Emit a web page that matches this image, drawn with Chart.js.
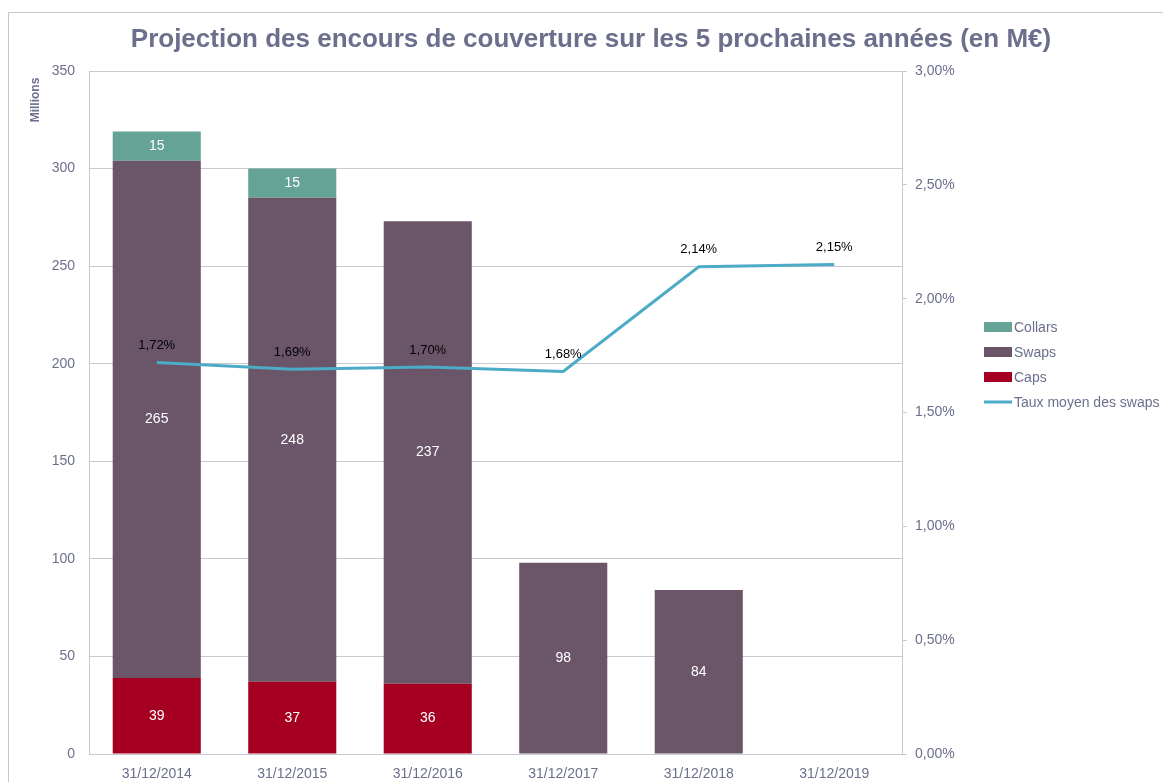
<!DOCTYPE html>
<html>
<head>
<meta charset="utf-8">
<script src="https://cdn.jsdelivr.net/npm/chart.js@4.4.1/dist/chart.umd.min.js"></script>
<style>
  html, body { margin: 0; padding: 0; background: #fff; }
  #wrap { width: 1163px; height: 782px; position: relative; }
</style>
</head>
<body>
<div id="wrap"><canvas id="chart" width="1163" height="782"></canvas></div>
<script>
const categories = ['31/12/2014', '31/12/2015', '31/12/2016', '31/12/2017', '31/12/2018', '31/12/2019'];
const caps = [39, 37, 36, 0, 0, 0];
const swaps = [265, 248, 237, 98, 84, 0];
const collars = [15, 15, 0, 0, 0, 0];
const tauxSwaps = [1.72, 1.69, 1.70, 1.68, 2.14, 2.15];

const textColor = '#6b6f8c';
const gridColor = '#c9c9d3';
const font = 'Liberation Sans, Arial, sans-serif';

// labels inside the bars and above the line
const labelPlugin = {
  id: 'labels',
  afterDatasetsDraw(chart) {
    const ctx = chart.ctx;
    ctx.save();
    ctx.textAlign = 'center';
    ctx.textBaseline = 'middle';
    chart.data.datasets.forEach((ds, i) => {
      const meta = chart.getDatasetMeta(i);
      meta.data.forEach((el, j) => {
        const v = ds.data[j];
        if (ds.type === 'line') {
          ctx.fillStyle = '#000';
          ctx.font = '13px ' + font;
          ctx.fillText(v.toFixed(2).replace('.', ',') + '%', el.x, el.y - 17);
        } else if (v > 0) {
          ctx.fillStyle = '#fff';
          ctx.font = '14px ' + font;
          ctx.fillText(v, el.x, (el.y + el.base) / 2);
        }
      });
    });
    ctx.restore();
  }
};

// frame, title, legend, unit
const decoPlugin = {
  id: 'deco',
  beforeDraw(chart) {
    const ctx = chart.ctx;
    ctx.save();
    ctx.strokeStyle = '#c6c6d0';
    ctx.lineWidth = 1;
    ctx.strokeRect(8.5, 12.5, 1300, 900);
    ctx.restore();
  },
  afterDraw(chart) {
    const ctx = chart.ctx;
    ctx.save();
    ctx.fillStyle = textColor;
    ctx.font = 'bold 26px ' + font;
    ctx.textAlign = 'center';
    ctx.textBaseline = 'middle';
    ctx.fillText('Projection des encours de couverture sur les 5 prochaines années (en M€)', 591, 40);

    ctx.save();
    ctx.translate(36, 100);
    ctx.rotate(-Math.PI / 2);
    ctx.font = 'bold 12px ' + font;
    ctx.fillText('Millions', 0, 0);
    ctx.restore();

    const items = [chart.data.datasets[2], chart.data.datasets[1], chart.data.datasets[0], chart.data.datasets[3]];
    ctx.textAlign = 'left';
    ctx.font = '14px ' + font;
    items.forEach((ds, i) => {
      const y = 327 + i * 25;
      if (ds.type === 'line') {
        ctx.strokeStyle = ds.borderColor;
        ctx.lineWidth = 3;
        ctx.beginPath();
        ctx.moveTo(984, y);
        ctx.lineTo(1012, y);
        ctx.stroke();
      } else {
        ctx.fillStyle = ds.backgroundColor;
        ctx.fillRect(984, y - 5, 28, 10);
      }
      ctx.fillStyle = textColor;
      ctx.fillText(ds.label, 1014, y + 1);
    });
    ctx.restore();
  }
};

new Chart(document.getElementById('chart'), {
  data: {
    labels: categories,
    datasets: [
      { type: 'bar', label: 'Caps', data: caps, backgroundColor: '#a50021', yAxisID: 'y', order: 2 },
      { type: 'bar', label: 'Swaps', data: swaps, backgroundColor: '#6b5569', yAxisID: 'y', order: 2 },
      { type: 'bar', label: 'Collars', data: collars, backgroundColor: '#65a396', yAxisID: 'y', order: 2 },
      { type: 'line', label: 'Taux moyen des swaps', data: tauxSwaps, borderColor: '#4cabc6', borderWidth: 3,
        pointRadius: 0, tension: 0, yAxisID: 'y1', order: 1 }
    ]
  },
  options: {
    responsive: false,
    animation: false,
    layout: { padding: { top: 71, left: 0, right: 0, bottom: 0 } },
    datasets: { bar: { categoryPercentage: 0.65, barPercentage: 1, borderWidth: 0 } },
    plugins: { legend: { display: false }, tooltip: { enabled: false } },
    scales: {
      x: {
        stacked: true,
        grid: { display: false },
        border: { display: true, color: gridColor, width: 1 },
        ticks: { color: textColor, font: { family: font, size: 14 }, padding: 4, maxRotation: 0 },
        afterFit(s) { s.height = 28; }
      },
      y: {
        stacked: true,
        position: 'left',
        min: 0, max: 350,
        ticks: { stepSize: 50, color: textColor, font: { family: font, size: 14 }, padding: 14 },
        grid: { color: gridColor, drawTicks: false },
        border: { display: true, color: gridColor },
        afterFit(s) { s.width = 89; }
      },
      y1: {
        position: 'right',
        min: 0, max: 3,
        ticks: {
          stepSize: 0.5, color: textColor, font: { family: font, size: 14 }, padding: 8,
          callback: v => v.toFixed(2).replace('.', ',') + '%'
        },
        grid: { drawOnChartArea: false, color: gridColor, tickLength: 5 },
        border: { display: true, color: gridColor },
        afterFit(s) { s.width = 261; }
      }
    }
  },
  plugins: [labelPlugin, decoPlugin]
});
</script>
</body>
</html>
